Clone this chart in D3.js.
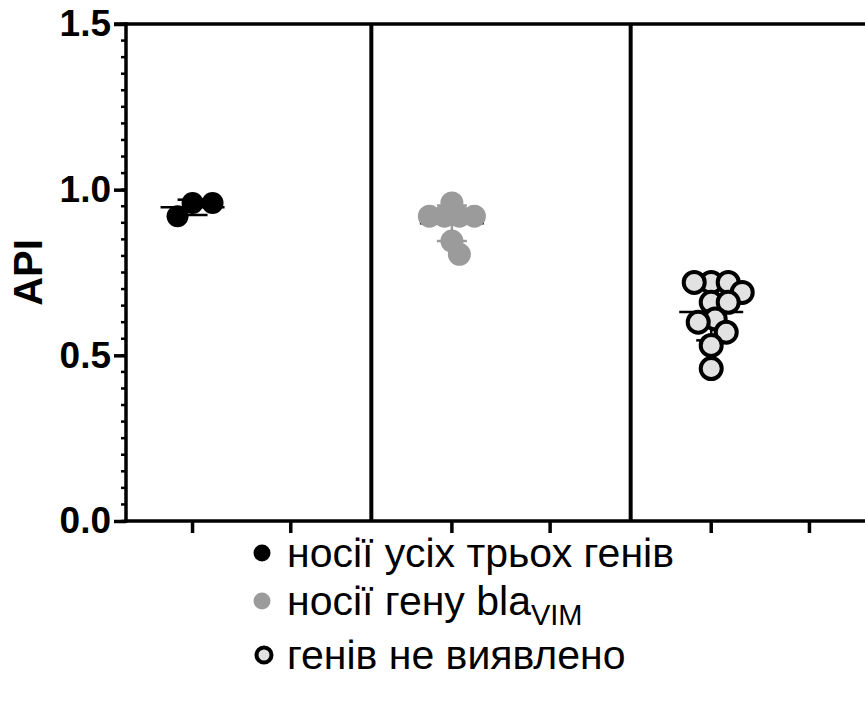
<!DOCTYPE html>
<html>
<head>
<meta charset="utf-8">
<script src="https://cdn.jsdelivr.net/npm/d3@7"></script>
<style>
  html, body { margin: 0; padding: 0; background: #fff; }
  svg { display: block; font-family: "Liberation Sans", Arial, Helvetica, sans-serif; }
</style>
</head>
<body>
<svg id="chart" width="865" height="702"></svg>
<script>
// ---------- data ----------
const groupNames = ["носії усіх трьох генів", "носії гену bla", "генів не виявлено"];
const groupSub = ["", "VIM", ""];
const subColumns = [0, 1];
const group1 = [0.92, 0.96, 0.96];
const group2 = [0.96, 0.92, 0.92, 0.92, 0.92, 0.845, 0.805];
const group3 = [0.72, 0.72, 0.72, 0.69, 0.66, 0.66, 0.61, 0.60, 0.57, 0.53, 0.46];
const yTickValues = [0, 0.5, 1.0, 1.5];
const yLabel = "API";

const groupValues = [group1, group2, group3];
const fills = ["#000000", "#9b9b9b", "#e2e2e2"];
const strokes = ["none", "none", "#000000"];
const errColors = ["#000000", "#9b9b9b", "#000000"];

// ---------- layout ----------
const svg = d3.select("#chart");
const yTop = 24, yBottom = 521, xAxisLeft = 126, xRight = 865;

const y = d3.scaleLinear().domain([0, 1.5]).range([yBottom, yTop]);
const xGroup = d3.scaleBand().domain([0, 1, 2]).range([112, 890]).padding(0);
const xSub = d3.scalePoint().domain(subColumns).range([0, xGroup.bandwidth()]).padding(0.82);

const axisStroke = 3.5;

// top frame line
svg.append("line").attr("x1", 114).attr("x2", xRight).attr("y1", yTop).attr("y2", yTop)
  .attr("stroke", "#000").attr("stroke-width", axisStroke);

// group separators
[1, 2].forEach(g => {
  svg.append("line").attr("x1", xGroup(g)).attr("x2", xGroup(g))
    .attr("y1", yTop).attr("y2", yBottom)
    .attr("stroke", "#000").attr("stroke-width", 4);
});

// y axis with minor ticks
const yAxisG = svg.append("g").attr("transform", `translate(${xAxisLeft},0)`);
const minor = d3.range(0, 1.5001, 0.05);
yAxisG.selectAll("line.minor").data(minor).join("line")
  .attr("x1", -5).attr("x2", 0)
  .attr("y1", d => y(d)).attr("y2", d => y(d))
  .attr("stroke", "#000").attr("stroke-width", 2.5);
const yAxis = d3.axisLeft(y).tickValues(yTickValues).tickFormat(d3.format(".1f")).tickSize(12).tickPadding(3);
yAxisG.call(yAxis);
yAxisG.select(".domain").attr("stroke-width", axisStroke).attr("d", `M0,${yTop - 1.75}V${yBottom + 1.75}`);
yAxisG.selectAll(".tick line").attr("stroke-width", axisStroke);
yAxisG.selectAll(".tick text")
  .attr("font-family", "Liberation Sans, Arial, sans-serif")
  .attr("font-weight", "bold").attr("font-size", 37).attr("fill", "#000");

// y label
svg.append("text")
  .attr("transform", `translate(42,${(yTop + yBottom) / 2}) rotate(-90)`)
  .attr("text-anchor", "middle")
  .attr("font-weight", "bold").attr("font-size", 40)
  .text(yLabel);

// x axis
const cols = [];
[0, 1, 2].forEach(g => subColumns.forEach(s => cols.push(xGroup(g) + xSub(s))));
svg.append("line").attr("x1", xAxisLeft - 1.75).attr("x2", xRight).attr("y1", yBottom).attr("y2", yBottom)
  .attr("stroke", "#000").attr("stroke-width", axisStroke);
svg.selectAll("line.xtick").data(cols).join("line")
  .attr("x1", d => d).attr("x2", d => d)
  .attr("y1", yBottom).attr("y2", yBottom + 12)
  .attr("stroke", "#000").attr("stroke-width", axisStroke);

// ---------- beeswarm ----------
function swarm(values, cx, minDist) {
  const sorted = values.map((v, i) => ({ v, i })).sort((a, b) => b.v - a.v);
  const placed = [];
  sorted.forEach(p => {
    const py = y(p.v);
    let best = null;
    for (let k = 0; k < 400 && best === null; k++) {
      const cands = k === 0 ? [0] : [k * 0.5, -k * 0.5];
      for (const dx of cands) {
        const ok = placed.every(q => Math.hypot(q.dx - dx, q.py - py) >= minDist);
        if (ok) { best = dx; break; }
      }
    }
    placed.push({ v: p.v, py, dx: best, cx: cx + best });
  });
  return placed;
}

const radii = [11, 11.5, 10.5];
const spread = [20, 15, 17];
groupValues.forEach((vals, g) => {
  const cx = xGroup(g) + xSub(0);
  const mean = d3.mean(vals), sd = d3.deviation(vals);
  const eg = svg.append("g");
  eg.append("line").attr("x1", cx).attr("x2", cx).attr("y1", y(mean + sd)).attr("y2", y(mean - sd))
    .attr("stroke", errColors[g]).attr("stroke-width", 2.5);
  [mean + sd, mean - sd].forEach(v => {
    eg.append("line").attr("x1", cx - 15).attr("x2", cx + 15).attr("y1", y(v)).attr("y2", y(v))
      .attr("stroke", errColors[g]).attr("stroke-width", 2.5);
  });
  eg.append("line").attr("x1", cx - 32).attr("x2", cx + 32).attr("y1", y(mean)).attr("y2", y(mean))
    .attr("stroke", "#000").attr("stroke-width", 2.5);

  const pts = swarm(vals, cx, spread[g]);
  svg.append("g").selectAll("circle").data(pts).join("circle")
    .attr("cx", d => d.cx).attr("cy", d => d.py).attr("r", radii[g])
    .attr("fill", fills[g])
    .attr("stroke", strokes[g]).attr("stroke-width", g === 2 ? 4 : 0);
});

// ---------- legend ----------
const legendY = [553, 601, 655];
const lg = svg.append("g");
groupNames.forEach((name, g) => {
  const row = lg.append("g").attr("transform", `translate(0,${legendY[g]})`);
  row.append("circle").attr("cx", g === 2 ? 264 : 262).attr("cy", 0).attr("r", g === 2 ? 7.5 : 8.5)
    .attr("fill", fills[g]).attr("stroke", strokes[g]).attr("stroke-width", g === 2 ? 4 : 0);
  const t = row.append("text").attr("x", 287).attr("y", 14)
    .attr("font-size", 41).attr("fill", "#000");
  t.append("tspan").text(name);
  if (groupSub[g]) {
    t.append("tspan").attr("font-size", 29).attr("dy", 10).text(groupSub[g]);
  }
});
</script>
</body>
</html>
